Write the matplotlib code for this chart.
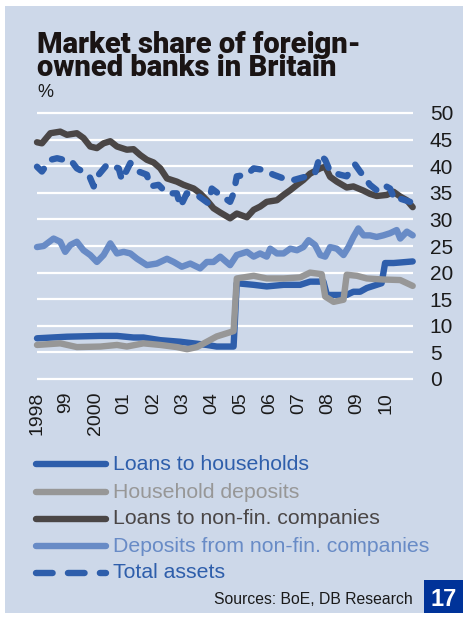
import numpy as np
import matplotlib
matplotlib.use("Agg")
import matplotlib.pyplot as plt
from matplotlib.lines import Line2D
from matplotlib.patches import Rectangle

# decimal years / values (%)
nfc_loans_t = [1998.0, 1998.17, 1998.46, 1998.8, 1999.03, 1999.37, 1999.6, 1999.83, 2000.06, 2000.29,
               2000.52, 2000.75, 2001.09, 2001.32, 2001.55, 2001.78, 2002.01, 2002.24, 2002.47, 2002.81,
               2003.04, 2003.39, 2003.61, 2003.84, 2004.07, 2004.3, 2004.64, 2004.87, 2005.22, 2005.45,
               2005.67, 2005.9, 2006.25, 2006.48, 2006.71, 2006.94, 2007.16, 2007.39, 2007.74, 2007.91,
               2008.08, 2008.31, 2008.65, 2008.88, 2009.23, 2009.45, 2009.68, 2010.03, 2010.26, 2010.49,
               2010.72, 2010.92]
nfc_loans = [44.5, 44.3, 46.2, 46.5, 45.9, 46.2, 45.3, 43.7, 43.4, 44.3,
             44.7, 43.7, 43.1, 43.2, 42.1, 41.2, 40.7, 39.6, 37.7, 37.1,
             36.5, 35.8, 34.9, 33.6, 32.1, 31.3, 30.2, 31.1, 30.4, 31.8,
             32.4, 33.3, 33.6, 34.6, 35.5, 36.5, 37.4, 38.6, 39.6, 39.9,
             38.0, 37.1, 36.0, 36.2, 35.4, 34.8, 34.4, 34.6, 35.2, 34.3,
             33.6, 32.3]

nfc_dep_t = [1998.0, 1998.23, 1998.57, 1998.8, 1998.97, 1999.15, 1999.37, 1999.6, 1999.83, 2000.06,
             2000.29, 2000.52, 2000.75, 2000.98, 2001.21, 2001.44, 2001.78, 2002.12, 2002.47, 2002.7,
             2002.98, 2003.27, 2003.61, 2003.84, 2004.07, 2004.3, 2004.64, 2004.87, 2005.22, 2005.45,
             2005.67, 2005.9, 2006.02, 2006.25, 2006.48, 2006.71, 2006.94, 2007.16, 2007.34, 2007.56,
             2007.74, 2007.91, 2008.08, 2008.31, 2008.54, 2008.71, 2008.88, 2009.05, 2009.23, 2009.45,
             2009.68, 2009.91, 2010.14, 2010.37, 2010.49, 2010.72, 2010.92]
nfc_dep = [24.8, 25.0, 26.4, 25.8, 23.9, 25.2, 25.8, 24.2, 23.3, 22.0,
           23.3, 25.5, 23.6, 23.9, 23.6, 22.6, 21.4, 21.7, 22.6, 22.0,
           21.1, 21.7, 20.8, 22.0, 22.0, 23.0, 21.4, 23.3, 23.9, 23.0,
           23.6, 23.0, 24.5, 23.6, 23.6, 24.5, 24.2, 24.8, 26.1, 25.2,
           23.3, 23.0, 24.8, 24.5, 23.3, 24.8, 26.7, 28.3, 27.0, 27.0,
           26.7, 27.0, 27.4, 28.0, 26.4, 27.7, 27.0]

assets_t = [1998.0, 1998.17, 1998.46, 1998.69, 1998.92, 1999.15, 1999.37, 1999.78, 1999.95, 2000.12,
            2000.41, 2000.81, 2000.92, 2001.21, 2001.49, 2001.78, 2001.89, 2002.18, 2002.47, 2002.81,
            2002.93, 2003.15, 2003.5, 2003.9, 2004.01, 2004.3, 2004.64, 2004.76, 2004.87, 2005.22,
            2005.45, 2005.79, 2006.13, 2006.48, 2006.82, 2007.28, 2007.56, 2007.74, 2007.91, 2008.08,
            2008.42, 2008.65, 2008.94, 2009.11, 2009.45, 2009.68, 2009.91, 2010.14, 2010.31, 2010.49,
            2010.83]
assets = [39.9, 39.0, 41.2, 41.5, 41.2, 41.2, 39.6, 38.4, 36.2, 38.4,
          40.3, 39.6, 37.4, 40.6, 39.0, 38.4, 36.2, 36.5, 34.9, 34.9,
          32.4, 34.9, 34.6, 33.0, 35.8, 34.6, 33.3, 34.9, 38.1, 38.4,
          39.6, 39.3, 38.4, 37.7, 37.4, 38.1, 38.7, 42.1, 41.2, 39.0,
          38.4, 38.1, 40.3, 39.0, 36.5, 35.5, 36.5, 35.8, 33.6, 33.9,
          33.3]

hh_loans_t = [1998.0, 1999.03, 2000.18, 2000.75, 2001.32, 2001.66, 2002.24, 2002.93, 2003.39, 2003.84,
              2004.18, 2004.76, 2004.87, 2005.45, 2005.9, 2006.48, 2007.05, 2007.39, 2007.74, 2007.85,
              2007.97, 2008.2, 2008.42, 2008.65, 2008.88, 2009.11, 2009.34, 2009.68, 2009.85, 2009.97,
              2010.26, 2010.49, 2010.92]
hh_loans = [7.65, 7.95, 8.1, 8.1, 7.8, 7.8, 7.3, 7.0, 6.7, 6.4,
            6.1, 6.1, 18.0, 17.7, 17.4, 17.7, 17.7, 18.3, 18.3, 18.3,
            15.8, 15.8, 15.8, 15.8, 16.4, 16.4, 17.1, 17.7, 18.0, 21.8,
            21.8, 21.9, 22.1]

hh_dep_t = [1998.0, 1998.8, 1999.37, 2000.18, 2000.75, 2001.09, 2001.66, 2002.24, 2002.81, 2003.16,
            2003.5, 2003.84, 2004.18, 2004.53, 2004.76, 2004.87, 2005.45, 2005.9, 2006.48, 2007.05,
            2007.39, 2007.79, 2007.91, 2008.2, 2008.54, 2008.65, 2009.0, 2009.34, 2009.91, 2010.49,
            2010.92]
hh_dep = [6.4, 6.7, 6.0, 6.1, 6.4, 6.1, 6.7, 6.4, 6.0, 5.6,
          6.0, 7.0, 8.0, 8.6, 9.0, 18.9, 19.4, 18.9, 18.9, 19.1,
          20.0, 19.7, 15.5, 14.5, 14.9, 19.6, 19.4, 18.9, 18.7, 18.6,
          17.5]

years = list(range(1998, 2011))
year_labels = ["1998", "99", "2000", "01", "02", "03", "04", "05", "06", "07", "08", "09", "10"]
y_ticks = [0, 5, 10, 15, 20, 25, 30, 35, 40, 45, 50]

legend_names = ["Loans to households", "Household deposits", "Loans to non-fin. companies",
                "Deposits from non-fin. companies", "Total assets"]

BG = "#cdd8e9"
BLUE = "#2e5eab"
GREY = "#979797"
DARK = "#4a4646"
LIGHT = "#688bc6"
LW = 4.6

plt.rcParams["font.family"] = ["Liberation Sans", "DejaVu Sans"]

W, H = 463, 619
fig = plt.figure(figsize=(W / 100, H / 100), dpi=100, facecolor="white")
fig.patches.append(Rectangle((5 / W, 6 / H), (W - 5) / W, (H - 12) / H,
                             transform=fig.transFigure, facecolor=BG, edgecolor="none", zorder=-10))

# axes placed so that 0 -> y=379px, 50 -> y=113px
unit = (379 - 113) / 50
y_lo, y_hi = -0.6, 50.6
bottom = (H - (379 + 0.6 * unit)) / H
top = (H - (113 - 0.6 * unit)) / H
ax = fig.add_axes([37 / W, bottom, (413 - 37) / W, top - bottom])
ax.set_facecolor("none")
ax.set_xlim(1998, 2010.93)
ax.set_ylim(y_lo, y_hi)
for s in ax.spines.values():
    s.set_visible(False)

for v in y_ticks:
    ax.axhline(v, color="white", lw=1.6, zorder=1)

kw = dict(lw=LW, solid_capstyle="round", solid_joinstyle="round", zorder=3, clip_on=False)
ax.plot(nfc_dep_t, nfc_dep, color=LIGHT, **kw)
ax.plot(nfc_loans_t, nfc_loans, color=DARK, **kw)
ax.plot(hh_loans_t, hh_loans, color=BLUE, **kw)
ax.plot(hh_dep_t, hh_dep, color=GREY, **kw)
ax.plot(assets_t, assets, color=BLUE, lw=LW, dashes=(1.6, 2.0), dash_capstyle="round",
        solid_joinstyle="round", zorder=4, clip_on=False)

ax.yaxis.tick_right()
ax.set_yticks(y_ticks)
ax.set_yticklabels([str(v) for v in y_ticks])
ax.set_xticks(years)
ax.set_xticklabels(year_labels, rotation=90, va="top", ha="center")
ax.tick_params(axis="y", length=0, pad=12, labelsize=15, labelcolor="#1a1a1a")
ax.tick_params(axis="x", length=0, pad=7, labelsize=14, labelcolor="#1a1a1a")

# title
fig.text(37 / W, 1 - 31 / H, "Market share of foreign-\nowned banks in Britain",
         family=["Roboto", "Liberation Sans"], fontweight="black", fontsize=21,
         va="top", ha="left", linespacing=0.79, color="#1a1414")
fig.text(37 / W, 1 - 84 / H, "%", fontsize=13, va="top", ha="left", color="#1a1a1a")

# legend
leg_colors = [BLUE, GREY, DARK, LIGHT, BLUE]
txt_colors = [BLUE, GREY, DARK, LIGHT, BLUE]
rows_y = [464, 492, 519, 546, 573]
for i, (name, c, tc, ry) in enumerate(zip(legend_names, leg_colors, txt_colors, rows_y)):
    yy = 1 - ry / H
    if i == 4:
        ln = Line2D([36 / W, 106 / W], [yy, yy], transform=fig.transFigure, color=c, lw=LW,
                    dashes=(2.6, 2.4), dash_capstyle="round")
    else:
        ln = Line2D([36 / W, 106 / W], [yy, yy], transform=fig.transFigure, color=c, lw=LW,
                    solid_capstyle="round")
    fig.lines.append(ln)
    fig.text(113 / W, yy, name, fontsize=15.3, color=tc, va="center", ha="left")

fig.text(413 / W, 1 - 600 / H, "Sources: BoE, DB Research", fontsize=11.3, color="#1a1a1a",
         va="center", ha="right")
fig.patches.append(Rectangle((424 / W, 6 / H), (W - 424) / W, 33 / H,
                             transform=fig.transFigure, facecolor="#003399", edgecolor="none", zorder=1))
fig.text(444 / W, 1 - 600 / H, "17", fontsize=17, fontweight="bold", color="white",
         va="center", ha="center")

fig.savefig("out.png", dpi=100, facecolor="white")
